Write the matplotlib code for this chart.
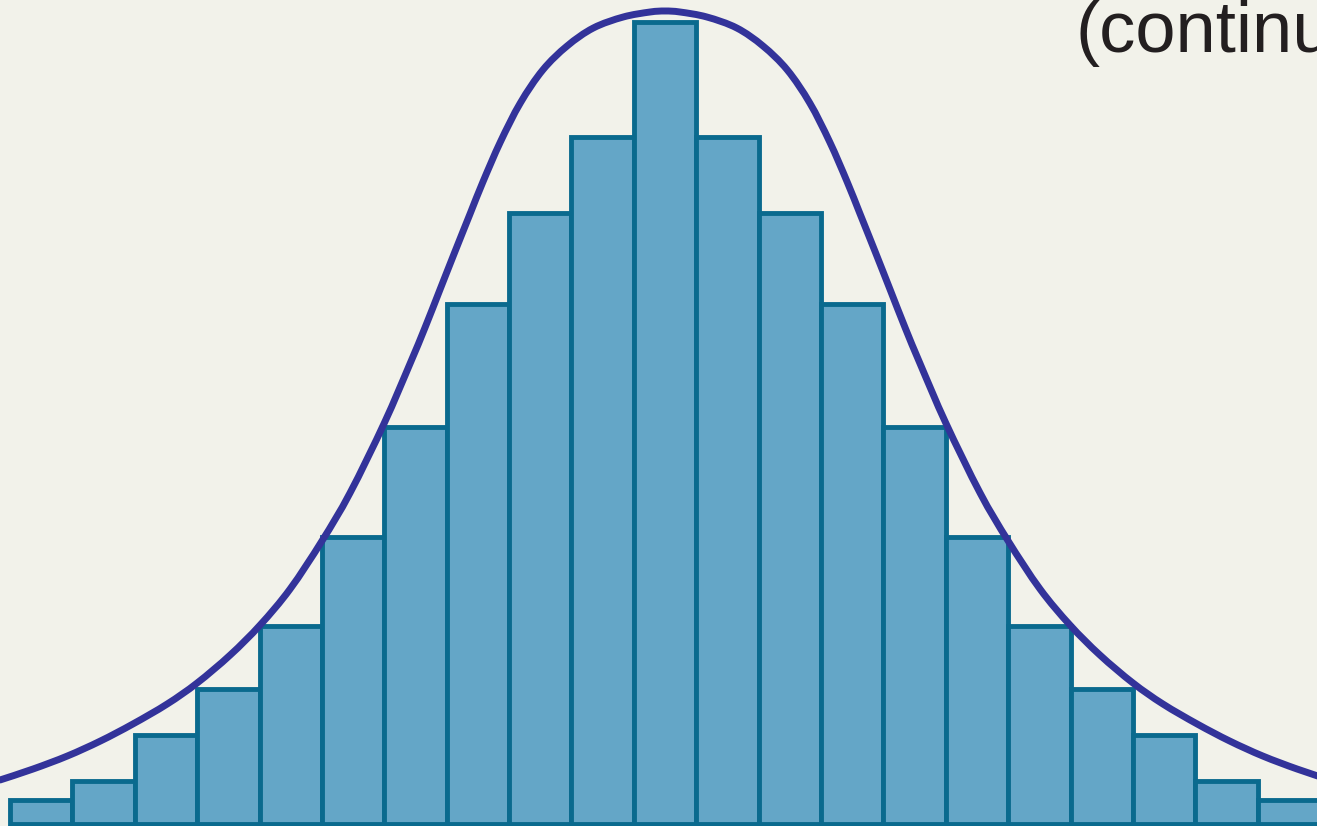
import numpy as np
import matplotlib.pyplot as plt
from matplotlib.path import Path
from matplotlib.patches import PathPatch

# histogram bins (centred on 0, width 1) and heights
bins = list(range(-10, 11))
heights = [2.4, 4.3, 8.9, 13.5, 19.8, 28.7, 39.7, 52.0, 61.1, 68.7, 80.2,
           68.7, 61.1, 52.0, 39.7, 28.7, 19.8, 13.5, 8.9, 4.3, 2.4]

# points along the bell curve (left half, then right half)
curve_x = [-10.66, -10.13, -9.58, -9.05, -8.53, -7.98, -7.50, -6.97, -6.49, -6.01,
           -5.50, -5.05, -4.50, -4.09, -3.85, -3.61, -3.37, -3.12, -2.92, -2.64,
           -2.32, -1.96, -1.57, -1.15, -0.67, -0.24, 0.0,
           0.24, 0.67, 1.15, 1.57, 1.96, 2.32, 2.64, 2.92, 3.12, 3.37, 3.61, 3.85,
           4.09, 4.50, 5.05, 5.50, 6.01, 6.49, 6.97, 7.50, 7.98, 8.53, 9.05, 9.58,
           10.13, 10.66]
curve_y = [4.4, 5.5, 6.8, 8.3, 10.0, 12.0, 14.1, 16.9, 19.9, 23.5,
           28.3, 33.1, 40.1, 46.0, 49.6, 53.4, 57.2, 61.1, 64.2, 68.2,
           72.1, 75.4, 77.8, 79.6, 80.7, 81.2, 81.3,
           81.2, 80.7, 79.6, 77.8, 75.4, 72.1, 68.2, 64.2, 61.1, 57.2, 53.4, 49.6,
           46.0, 40.1, 33.1, 28.3, 23.5, 19.9, 16.9, 14.1, 12.0, 10.0, 8.3, 6.8,
           5.5, 4.4]

bg = '#f2f2ea'
fig = plt.figure(figsize=(13.17, 8.26), dpi=100, facecolor=bg)
ax = fig.add_axes([0, 0, 1, 1])
ax.set_facecolor(bg)

ax.bar(bins, heights, width=1.0, color='#64a6c7', edgecolor='#0a6a8e',
       linewidth=3.5, zorder=2)

# smooth path through the read points (Catmull-Rom -> cubic Bezier)
pts = np.column_stack([curve_x, curve_y])
padded = np.vstack([pts[0], pts, pts[-1]])
verts = [pts[0]]
codes = [Path.MOVETO]
for i in range(len(pts) - 1):
    p0, p1, p2, p3 = padded[i], padded[i + 1], padded[i + 2], padded[i + 3]
    verts += [p1 + (p2 - p0) / 6, p2 - (p3 - p1) / 6, p2]
    codes += [Path.CURVE4] * 3
ax.add_patch(PathPatch(Path(verts, codes), facecolor='none', edgecolor='#33339a',
                       linewidth=5.0, capstyle='round', joinstyle='round', zorder=3))

ax.set_xlim(-10.66, 10.45)
ax.set_ylim(-0.2, 82.4)
ax.axis('off')

fig.text(1076 / 1317, (826 - 52) / 826, '(continu', fontsize=52,
         family='Liberation Sans', color='#231f20', ha='left', va='baseline')

fig.savefig('out.png', dpi=100, facecolor=bg)
